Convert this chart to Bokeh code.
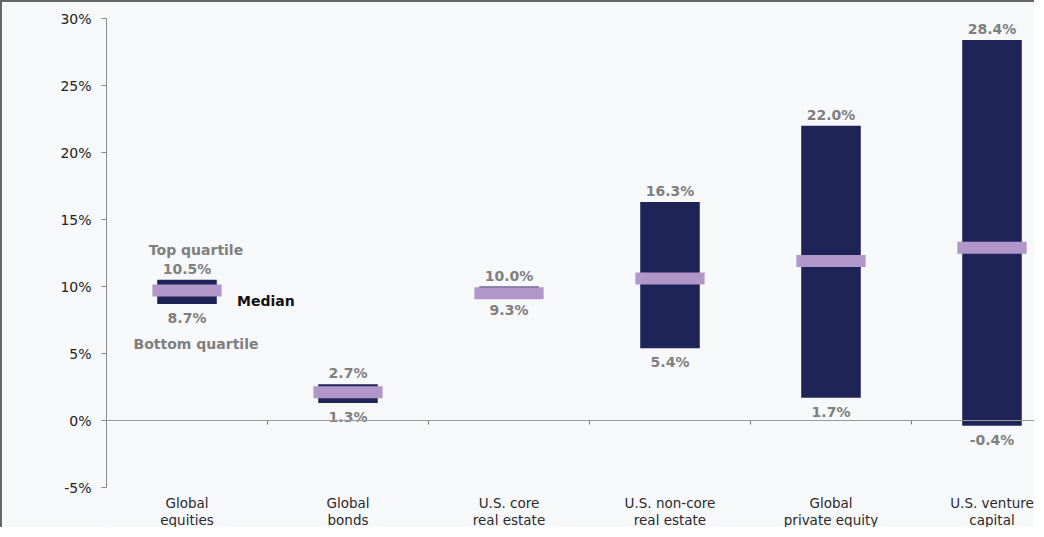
from bokeh.plotting import figure
from bokeh.models import Range1d, FixedTicker, PrintfTickFormatter, Span, ColumnDataSource
from bokeh.core.properties import value
from bokeh.embed import file_html
from bokeh.resources import INLINE

categories = ["Global\nequities", "Global\nbonds", "U.S. core\nreal estate",
              "U.S. non-core\nreal estate", "Global\nprivate equity", "U.S. venture\ncapital"]
top_quartile = [10.5, 2.7, 10.0, 16.3, 22.0, 28.4]
median = [9.7, 2.1, 9.5, 10.6, 11.9, 12.9]
bottom_quartile = [8.7, 1.3, 9.3, 5.4, 1.7, -0.4]
y_ticks = [-5, 0, 5, 10, 15, 20, 25, 30]
y_axis_min, y_axis_max = -5, 30

FONT = value("DejaVu Sans")
NAVY = "#1e2458"
LAV = "#b396c9"
BG = "#f7f8fa"

H, W = 527, 1034
TOP, LEFT = 16, 104
AXIS_PX = 469          # pixel height of the -5%..30% axis
FRAME_PX = H - TOP     # frame runs to the bottom of the canvas
y_start = y_axis_max - (y_axis_max - y_axis_min) * FRAME_PX / AXIS_PX

xs = [i + 0.5 for i in range(len(categories))]
boundaries = [i + 1 for i in range(len(categories) - 1)]

src = ColumnDataSource(dict(
    x=xs, top=top_quartile, med=median, low=bottom_quartile,
    top_lbl=[f"{v:.1f}%" for v in top_quartile],
    low_lbl=[f"{v:.1f}%" for v in bottom_quartile],
    cat=categories, axis_min=[y_axis_min] * len(categories),
))

p = figure(width=W, height=H, output_backend="svg", toolbar_location=None,
           x_range=Range1d(0, (W - LEFT) / 161), y_range=Range1d(y_start, y_axis_max),
           min_border_left=LEFT, min_border_right=0, min_border_top=TOP, min_border_bottom=0)
p.styles = {"border-left": "2px solid #666", "border-top": "2px solid #666"}
p.background_fill_color = BG
p.border_fill_color = BG
p.outline_line_color = None
p.grid.visible = False

# y axis
p.yaxis.bounds = (y_axis_min, y_axis_max)
p.yaxis.ticker = FixedTicker(ticks=y_ticks)
p.yaxis.formatter = PrintfTickFormatter(format="%d%%")
p.yaxis.axis_line_color = "#8a8a8a"
p.yaxis.major_tick_line_color = "#8a8a8a"
p.yaxis.major_tick_out = 5
p.yaxis.major_tick_in = 0
p.yaxis.minor_tick_line_color = None
p.yaxis.major_label_standoff = 10
p.yaxis.major_label_text_font = "DejaVu Sans"
p.yaxis.major_label_text_font_size = "14px"
p.yaxis.major_label_text_color = "#222222"

# x axis hidden; category names drawn below the axis bottom
p.xaxis.visible = False
p.text(x="x", y="axis_min", text="cat", source=src, text_align="center", text_baseline="top",
       y_offset=7, text_font=FONT, text_font_size="13.5px", text_line_height=1.08,
       text_color="#2a2a2a")

# zero line and category separators
p.add_layout(Span(location=0, dimension="width", line_color="#9a9a9a", line_width=1))
p.segment(x0=boundaries, x1=boundaries, y0=[0] * len(boundaries), y1=[-0.3] * len(boundaries),
          line_color="#777777", line_width=1)

# quartile bars and medians
p.vbar(x="x", top="top", bottom="low", width=0.37, source=src, fill_color=NAVY, line_color=None)
p.rect(x="x", y="med", width=0.43, height=12, height_units="screen", source=src,
       fill_color=LAV, line_color=None)

# value labels
p.text(x="x", y="top", text="top_lbl", source=src, text_align="center", text_baseline="bottom",
       y_offset=-3, text_font=FONT, text_font_size="14px", text_font_style="bold",
       text_color="#7f7f7f")
p.text(x="x", y="low", text="low_lbl", source=src, text_align="center", text_baseline="top",
       y_offset=6, text_font=FONT, text_font_size="14px", text_font_style="bold",
       text_color="#7f7f7f")

# explanatory labels on first category
p.text(x=[xs[0]], y=[top_quartile[0]], text=["Top quartile"], text_align="center",
       text_baseline="middle", x_offset=9, y_offset=-30, text_font=FONT, text_font_size="14px",
       text_font_style="bold", text_color="#7f7f7f")
p.text(x=[xs[0]], y=[bottom_quartile[0]], text=["Bottom quartile"], text_align="center",
       text_baseline="middle", x_offset=9, y_offset=40, text_font=FONT, text_font_size="14px",
       text_font_style="bold", text_color="#7f7f7f")
p.text(x=[xs[0]], y=[median[0]], text=["Median"], text_align="left",
       text_baseline="middle", x_offset=50, y_offset=10, text_font=FONT, text_font_size="14px",
       text_font_style="bold", text_color="#111111")

open("out.html", "w").write(file_html(p, INLINE))
